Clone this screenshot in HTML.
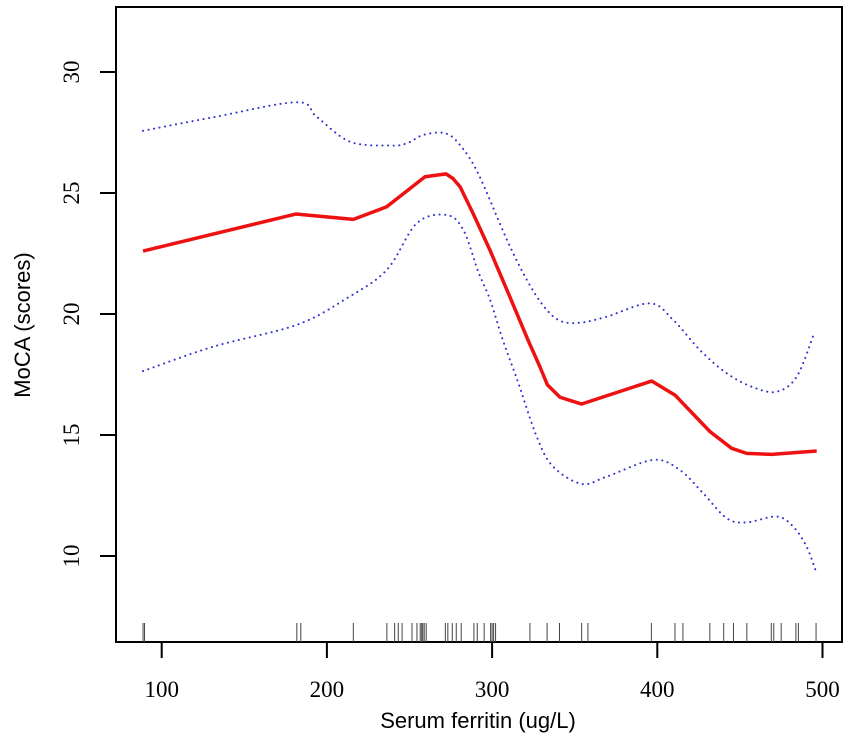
<!DOCTYPE html>
<html><head><meta charset="utf-8"><style>
body{margin:0;background:#fff}
svg{display:block;font-family:"Liberation Sans",sans-serif}
.tk{font-family:"Liberation Serif",serif}
</style></head><body>
<svg id="chart" width="851" height="749">
<rect x="116" y="7" width="726" height="635" fill="none" stroke="#000" stroke-width="2"/>
<g id="axes"></g><g id="rug"></g><g id="lines"></g>
<text x="478" y="728" text-anchor="middle" font-size="22">Serum ferritin (ug/L)</text>
<text transform="translate(30,325) rotate(-90)" text-anchor="middle" font-size="22">MoCA (scores)</text>
</svg>
<script>
const xTicks=[100,200,300,400,500];
const yTicks=[10,15,20,25,30];
const rugValues=[88.7,89.6,181.8,184.2,216,236.3,241,243.2,245.5,251.5,254.5,256.5,257.4,258,258.9,260.1,271.7,273.2,275.9,278.3,281.3,289,291,295.2,299.1,300,300.9,302.1,322.9,333.3,340.8,354.2,358,396.4,410.7,415.5,431.8,440.2,446.1,454.2,469,470.5,475,483.9,485.4,496.1];
const fitX=[88.7,181.1,216,236.2,259.4,272.1,276.3,280.6,288.4,298.7,310.8,321.7,329,333.5,341.1,354.2,396.6,410.7,431.9,445,454.1,469.2,496.5];
const fitY=[22.6,24.13,23.91,24.43,25.67,25.79,25.6,25.26,24.17,22.64,20.7,18.93,17.81,17.07,16.56,16.28,17.23,16.65,15.14,14.45,14.24,14.2,14.34];
const upperX=[88.7,131.2,181.7,193.8,214,238.2,248.3,258.4,271.5,280.6,291.6,309,321.1,331.5,341.1,353.2,369.4,395.6,409.7,425.8,442,458.1,472.3,484.4,494.9];
const upperY=[27.57,28.13,28.75,28.15,27.12,26.96,27.05,27.4,27.47,26.98,25.8,23.06,21.4,20.3,19.72,19.64,19.89,20.44,19.75,18.51,17.55,16.97,16.79,17.41,19.2];
const lowerX=[88.7,131.2,181.7,212,236.2,254.4,272.5,282.6,291.6,298.7,306.6,315.1,327.2,337,354.2,369.4,397.6,413.7,427.8,442,454.1,472.3,482.3,490.4,496.1];
const lowerY=[17.64,18.65,19.55,20.65,21.82,23.75,24.09,23.47,21.75,20.6,18.9,17.3,14.9,13.69,12.98,13.28,13.97,13.55,12.59,11.56,11.39,11.63,11.21,10.38,9.35];
const NS="http://www.w3.org/2000/svg";
const sx=v=>161.7+(v-100)*1.652;
const sy=v=>72+(30-v)*24.2;
function mk(t,a,p){const e=document.createElementNS(NS,t);for(const k in a)e.setAttribute(k,a[k]);p.appendChild(e);return e;}
const axes=document.getElementById('axes');
xTicks.forEach(t=>{
 const l=mk('line',{x1:sx(t),x2:sx(t),y1:642,y2:658,stroke:'#000','stroke-width':2},axes);
 
 
 const tx=mk('text',{x:sx(t),y:697,'text-anchor':'middle','font-size':23,class:'tk'},axes);tx.textContent=t;
 
 
});
yTicks.forEach(t=>{
 const l=mk('line',{x1:100,x2:116,y1:sy(t),y2:sy(t),stroke:'#000','stroke-width':2},axes);
 
 
 const tx=mk('text',{transform:`translate(79,${sy(t)}) rotate(-90)`,'text-anchor':'middle','font-size':23,class:'tk'},axes);tx.textContent=t;
 
 
});
const rug=document.getElementById('rug');
rugValues.forEach(v=>{
 const l=mk('line',{x1:sx(v),x2:sx(v),y1:623,y2:642,stroke:'#444','stroke-width':1},rug);
 
 
});
function spline(xs,ys){
 const p=xs.map((x,i)=>[sx(x),sy(ys[i])]);
 let d=`M${p[0][0]},${p[0][1]}`;
 for(let i=0;i<p.length-1;i++){
  const p0=p[Math.max(0,i-1)],p1=p[i],p2=p[i+1],p3=p[Math.min(p.length-1,i+2)];
  const c1=[p1[0]+(p2[0]-p0[0])/6,p1[1]+(p2[1]-p0[1])/6];
  const c2=[p2[0]-(p3[0]-p1[0])/6,p2[1]-(p3[1]-p1[1])/6];
  d+=`C${c1[0]},${c1[1]} ${c2[0]},${c2[1]} ${p2[0]},${p2[1]}`;
 }
 return d;
}
function poly(xs,ys){return xs.map((x,i)=>(i?'L':'M')+sx(x)+','+sy(ys[i])).join('');}
const lines=document.getElementById('lines');
const u=mk('path',{d:spline(upperX,upperY),fill:'none',stroke:'#3030d0','stroke-width':2,'stroke-dasharray':'0.1 5.5','stroke-linecap':'round'},lines);


const lo=mk('path',{d:spline(lowerX,lowerY),fill:'none',stroke:'#3030d0','stroke-width':2,'stroke-dasharray':'0.1 5.5','stroke-linecap':'round'},lines);


const f=mk('path',{d:poly(fitX,fitY),fill:'none',stroke:'#ee1111','stroke-width':3.5,'stroke-linejoin':'round'},lines);


</script>
</body></html>
